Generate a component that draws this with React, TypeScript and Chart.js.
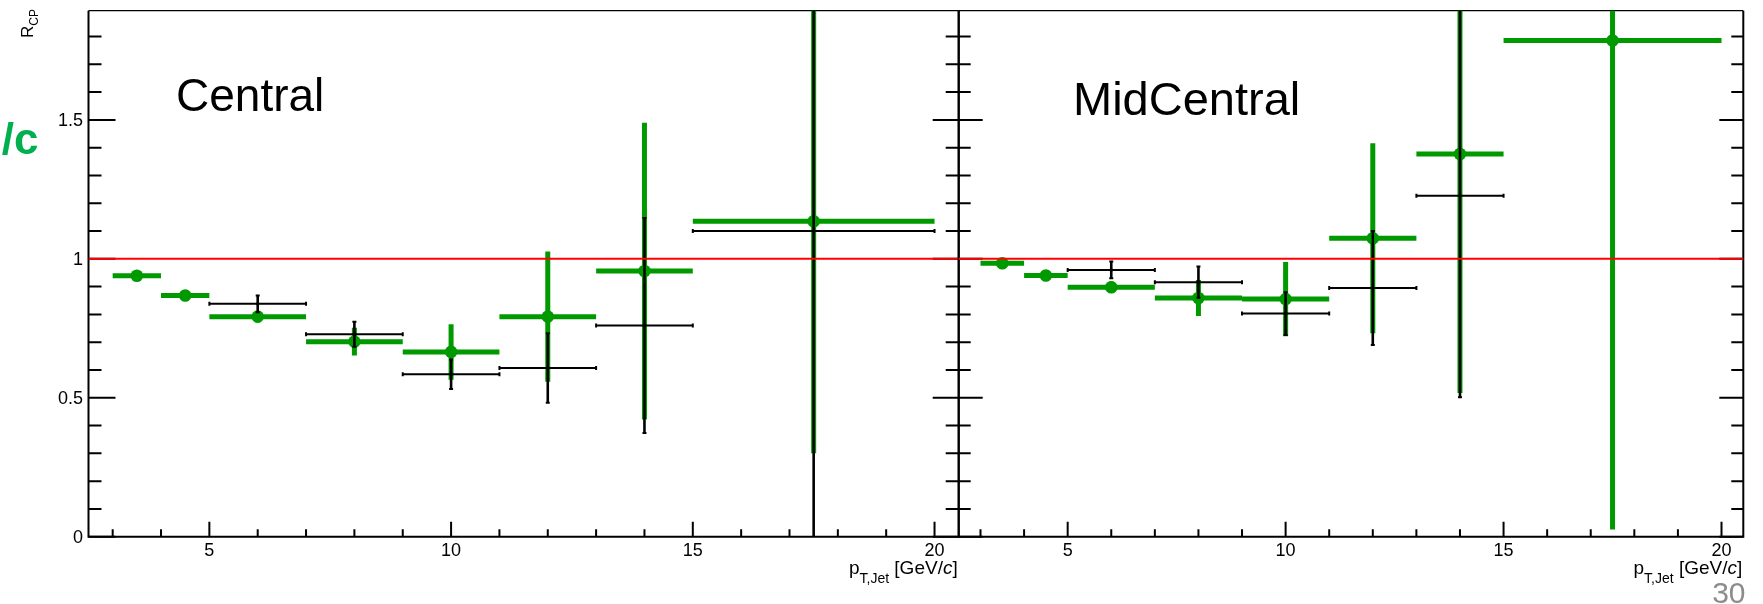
import React, { useEffect, useRef } from "react";
import { Chart, registerables } from "chart.js";

Chart.register(...registerables);

// ---------- axis ranges & ticks ----------
const X_MIN = 2.5;
const X_MAX = 20.5;
const Y_MIN = 0;
const Y_MAX = 1.893;
const REF_LEVEL = 1;

const xMajorTicks = [5, 10, 15, 20];
const xTickLabels = ["5", "10", "15", "20"];
const xMinorTicks = [3, 4, 6, 7, 8, 9, 11, 12, 13, 14, 16, 17, 18, 19, 20];
const yMajorTicks = [0, 0.5, 1, 1.5];
const yTickLabels = ["0", "0.5", "1", "1.5"];
const yMinorTicks = [0.1, 0.2, 0.3, 0.4, 0.6, 0.7, 0.8, 0.9, 1.1, 1.2, 1.3, 1.4, 1.6, 1.7, 1.8];

// ---------- Central panel ----------
const centralGreenX = [3.5, 4.5, 6, 8, 10, 12, 14, 17.5];
const centralGreenLow = [3, 4, 5, 7, 9, 11, 13, 15];
const centralGreenHigh = [4, 5, 7, 9, 11, 13, 15, 20];
const centralGreenY = [0.939, 0.868, 0.792, 0.702, 0.665, 0.792, 0.956, 1.135];
const centralGreenErr = [0.01, 0.01, 0.02, 0.05, 0.1, 0.234, 0.534, 0.835];

const centralBlackX = [6, 8, 10, 12, 14, 17.5];
const centralBlackLow = [5, 7, 9, 11, 13, 15];
const centralBlackHigh = [7, 9, 11, 13, 15, 20];
const centralBlackY = [0.838, 0.729, 0.585, 0.607, 0.76, 1.1];
const centralBlackErr = [0.03, 0.045, 0.053, 0.125, 0.387, 1.3];

// ---------- MidCentral panel ----------
const midGreenX = [3.5, 4.5, 6, 8, 10, 12, 14, 17.5];
const midGreenLow = [3, 4, 5, 7, 9, 11, 13, 15];
const midGreenHigh = [4, 5, 7, 9, 11, 13, 15, 20];
const midGreenY = [0.984, 0.94, 0.898, 0.859, 0.855, 1.074, 1.377, 1.786];
const midGreenErr = [0.005, 0.008, 0.02, 0.065, 0.134, 0.342, 0.86, 1.76];

const midBlackX = [6, 8, 10, 12, 14];
const midBlackLow = [5, 7, 9, 11, 13];
const midBlackHigh = [7, 9, 11, 13, 15];
const midBlackY = [0.96, 0.916, 0.803, 0.895, 1.227];
const midBlackErr = [0.03, 0.056, 0.077, 0.205, 0.725];

const GREEN = "#009900";
const BLACK = "#000000";
const RED = "#ff0000";
const FONT = '"Liberation Sans", Arial, Helvetica, sans-serif';

const W = 1763;
const H = 604;
const TOP = 10.7;
const BOTTOM = 536.7;
const LEFT_L = 88.5;
const MID = 958.7;
const RIGHT_R = 1743.3;

const errorBarPlugin = {
  id: "errbars",
  beforeDatasetDraw(chart: any, args: any) {
    const ds = chart.data.datasets[args.index];
    if (!ds.errY) return;
    const ctx = chart.ctx;
    const ca = chart.chartArea;
    const xs = chart.scales.x;
    const ys = chart.scales.y;
    ctx.save();
    ctx.beginPath();
    ctx.rect(ca.left, ca.top, ca.right - ca.left, ca.bottom - ca.top);
    ctx.clip();
    ctx.strokeStyle = ds.barColor;
    ctx.lineCap = "butt";
    ds.data.forEach((p: any, i: number) => {
      const px = xs.getPixelForValue(p.x);
      const py = ys.getPixelForValue(p.y);
      const xl = xs.getPixelForValue(ds.xLow[i]);
      const xh = xs.getPixelForValue(ds.xHigh[i]);
      const yt = ys.getPixelForValue(p.y + ds.errY[i]);
      const yb = ys.getPixelForValue(p.y - ds.errY[i]);
      ctx.lineWidth = ds.hWidth;
      ctx.beginPath();
      ctx.moveTo(xl, py);
      ctx.lineTo(xh, py);
      ctx.stroke();
      ctx.lineWidth = ds.vWidth;
      ctx.beginPath();
      ctx.moveTo(px, yt);
      ctx.lineTo(px, yb);
      ctx.stroke();
      if (ds.cap) {
        const c = ds.cap;
        ctx.lineWidth = 2;
        ctx.beginPath();
        ctx.moveTo(xl, py - c);
        ctx.lineTo(xl, py + c);
        ctx.moveTo(xh, py - c);
        ctx.lineTo(xh, py + c);
        ctx.moveTo(px - c, yt);
        ctx.lineTo(px + c, yt);
        ctx.moveTo(px - c, yb);
        ctx.lineTo(px + c, yb);
        ctx.stroke();
      }
    });
    ctx.restore();
  },
};

function drawXTitle(ctx: CanvasRenderingContext2D, rightX: number, baseline: number) {
  const main = `19px ${FONT}`;
  const ital = `italic 19px ${FONT}`;
  const sub = `14px ${FONT}`;
  ctx.font = main;
  const wp = ctx.measureText("p").width;
  const wb1 = ctx.measureText(" [GeV/").width;
  const wb2 = ctx.measureText("]").width;
  ctx.font = ital;
  const wc = ctx.measureText("c").width;
  ctx.font = sub;
  const ws = ctx.measureText("T,Jet").width;
  let x = rightX - (wp + ws + wb1 + wc + wb2);
  ctx.fillStyle = "#000";
  ctx.textAlign = "left";
  ctx.textBaseline = "alphabetic";
  ctx.font = main;
  ctx.fillText("p", x, baseline);
  x += wp;
  ctx.font = sub;
  ctx.fillText("T,Jet", x, baseline + 9);
  x += ws;
  ctx.font = main;
  ctx.fillText(" [GeV/", x, baseline);
  x += wb1;
  ctx.font = ital;
  ctx.fillText("c", x, baseline);
  x += wc;
  ctx.font = main;
  ctx.fillText("]", x, baseline);
}

function makeFramePlugin(cfg: any) {
  return {
    id: "rootframe",
    beforeDatasetsDraw(chart: any) {
      const ctx = chart.ctx;
      const ca = chart.chartArea;
      const xs = chart.scales.x;
      const ys = chart.scales.y;
      ctx.save();
      ctx.strokeStyle = "#000";
      ctx.lineCap = "butt";
      ctx.lineWidth = 2;
      ctx.beginPath();
      ctx.moveTo(ca.left, ca.top);
      ctx.lineTo(ca.left, ca.bottom);
      ctx.lineTo(ca.right, ca.bottom);
      ctx.lineTo(ca.right, ca.top);
      ctx.stroke();
      ctx.lineWidth = 1.2;
      ctx.beginPath();
      ctx.moveTo(ca.left, ca.top);
      ctx.lineTo(ca.right, ca.top);
      ctx.stroke();
      ctx.lineWidth = 2;
      const sides = [
        { x: ca.left, dir: 1, maj: cfg.leftMaj, min: cfg.leftMin },
        { x: ca.right, dir: -1, maj: cfg.rightMaj, min: cfg.rightMin },
      ];
      ctx.beginPath();
      sides.forEach((s) => {
        yMajorTicks.forEach((v) => {
          const y = ys.getPixelForValue(v);
          ctx.moveTo(s.x, y);
          ctx.lineTo(s.x + s.dir * s.maj, y);
        });
        yMinorTicks.forEach((v) => {
          const y = ys.getPixelForValue(v);
          ctx.moveTo(s.x, y);
          ctx.lineTo(s.x + s.dir * s.min, y);
        });
      });
      xMajorTicks.forEach((v) => {
        const x = xs.getPixelForValue(v);
        ctx.moveTo(x, ca.bottom);
        ctx.lineTo(x, ca.bottom - 15);
      });
      xMinorTicks.forEach((v) => {
        const x = xs.getPixelForValue(v);
        ctx.moveTo(x, ca.bottom);
        ctx.lineTo(x, ca.bottom - 7.5);
      });
      ctx.stroke();
      ctx.fillStyle = "#000";
      ctx.font = `18px ${FONT}`;
      ctx.textBaseline = "alphabetic";
      ctx.textAlign = "center";
      xMajorTicks.forEach((v, i) => {
        ctx.fillText(xTickLabels[i], xs.getPixelForValue(v), 555.5);
      });
      if (cfg.yLabels) {
        ctx.textAlign = "right";
        yMajorTicks.forEach((v, i) => {
          ctx.fillText(yTickLabels[i], ca.left - 5.5, ys.getPixelForValue(v) + 6.4);
        });
      }
      ctx.restore();
    },
    afterDraw(chart: any) {
      const ctx = chart.ctx;
      const ca = chart.chartArea;
      ctx.save();
      drawXTitle(ctx, ca.right - 1, 573.5);
      ctx.fillStyle = "#000";
      ctx.font = `${cfg.labelSize}px ${FONT}`;
      ctx.textAlign = "left";
      ctx.textBaseline = "alphabetic";
      ctx.fillText(cfg.label, cfg.labelX, cfg.labelY);
      if (cfg.yTitle) {
        ctx.save();
        ctx.translate(33, 38);
        ctx.rotate(-Math.PI / 2);
        ctx.font = `17px ${FONT}`;
        ctx.fillText("R", 0, 0);
        const wr = ctx.measureText("R").width;
        ctx.font = `12px ${FONT}`;
        ctx.fillText("CP", wr, 4.5);
        ctx.restore();
        ctx.fillStyle = "#00b050";
        ctx.font = `bold 44px ${FONT}`;
        ctx.textAlign = "right";
        ctx.fillText("/c", 38.5, 153.5);
      }
      if (cfg.pageNum) {
        ctx.fillStyle = "#8c8c8c";
        ctx.font = `30px ${FONT}`;
        ctx.textAlign = "right";
        ctx.fillText("30", 1745.5, 603);
      }
      ctx.restore();
    },
  };
}

function makeConfig(p: any) {
  return {
    type: "scatter",
    data: {
      datasets: [
        {
          label: "green",
          data: p.gx.map((x: number, i: number) => ({ x, y: p.gy[i] })),
          xLow: p.gl,
          xHigh: p.gh,
          errY: p.ge,
          barColor: GREEN,
          hWidth: 5,
          vWidth: 5,
          pointRadius: 6.3,
          pointBackgroundColor: GREEN,
          pointBorderWidth: 0,
          borderWidth: 0,
          order: 3,
        },
        {
          label: "black",
          data: p.bx.map((x: number, i: number) => ({ x, y: p.by[i] })),
          xLow: p.bl,
          xHigh: p.bh,
          errY: p.be,
          barColor: BLACK,
          hWidth: 2,
          vWidth: 2.6,
          cap: 2,
          pointRadius: 1.8,
          pointBackgroundColor: BLACK,
          pointBorderWidth: 0,
          borderWidth: 0,
          order: 2,
        },
        {
          type: "line",
          label: "ref",
          data: [
            { x: X_MIN, y: REF_LEVEL },
            { x: X_MAX, y: REF_LEVEL },
          ],
          borderColor: RED,
          borderWidth: 2,
          pointRadius: 0,
          showLine: true,
          order: 1,
        },
      ],
    },
    options: {
      responsive: false,
      animation: false,
      devicePixelRatio: 1,
      events: [],
      layout: { padding: p.padding },
      scales: {
        x: { type: "linear", min: X_MIN, max: X_MAX, display: false },
        y: { type: "linear", min: Y_MIN, max: Y_MAX, display: false },
      },
      plugins: { legend: { display: false }, tooltip: { enabled: false }, title: { display: false } },
    },
    plugins: [errorBarPlugin, makeFramePlugin(p.frame)],
  };
}

const centralPanel = {
  gx: centralGreenX, gl: centralGreenLow, gh: centralGreenHigh, gy: centralGreenY, ge: centralGreenErr,
  bx: centralBlackX, bl: centralBlackLow, bh: centralBlackHigh, by: centralBlackY, be: centralBlackErr,
  padding: { left: LEFT_L, right: W - MID, top: TOP, bottom: H - BOTTOM },
  frame: { leftMaj: 27, leftMin: 13, rightMaj: 26, rightMin: 13, yLabels: true, label: "Central", labelSize: 46, labelX: 176, labelY: 111, yTitle: true },
};

const midPanel = {
  gx: midGreenX, gl: midGreenLow, gh: midGreenHigh, gy: midGreenY, ge: midGreenErr,
  bx: midBlackX, bl: midBlackLow, bh: midBlackHigh, by: midBlackY, be: midBlackErr,
  padding: { left: MID, right: W - RIGHT_R, top: TOP, bottom: H - BOTTOM },
  frame: { leftMaj: 24, leftMin: 12, rightMaj: 24, rightMin: 12, yLabels: false, label: "MidCentral", labelSize: 47, labelX: 1073, labelY: 115, pageNum: true },
};

function Panel({ panel }: { panel: any }) {
  const ref = useRef<HTMLCanvasElement | null>(null);
  useEffect(() => {
    if (!ref.current) return;
    const chart = new Chart(ref.current, makeConfig(panel) as any);
    return () => chart.destroy();
  }, [panel]);
  return (
    <canvas
      ref={ref}
      width={W}
      height={H}
      style={{ position: "absolute", left: 0, top: 0, width: W, height: H }}
    />
  );
}

export default function App() {
  return (
    <div style={{ position: "absolute", left: 0, top: 0, width: W, height: H, background: "#fff", overflow: "hidden" }}>
      <Panel panel={centralPanel} />
      <Panel panel={midPanel} />
    </div>
  );
}
